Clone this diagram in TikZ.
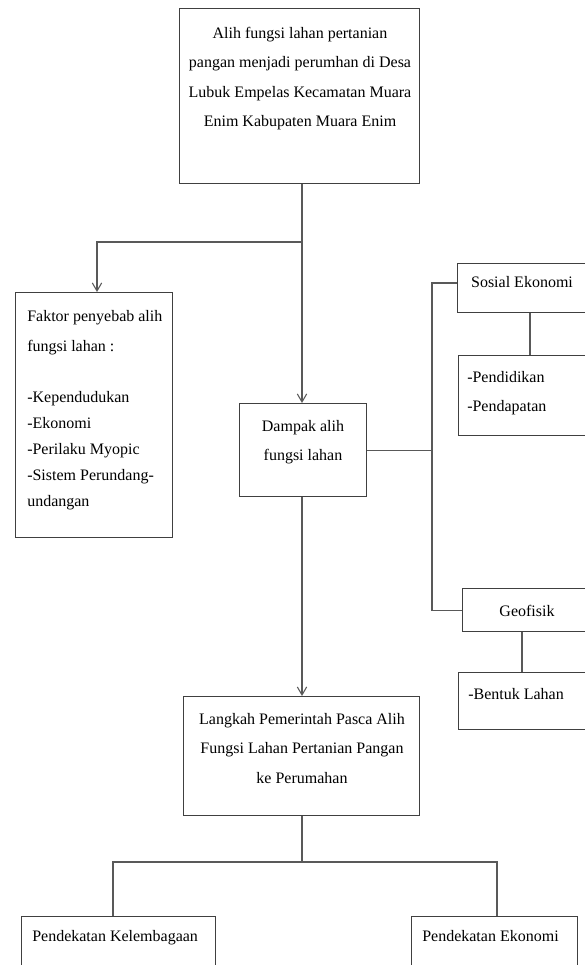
\documentclass[tikz,border=0pt]{standalone}
\usepackage{fontspec}
\setmainfont{Liberation Serif}
\usetikzlibrary{arrows.meta}
\begin{document}
\begin{tikzpicture}[x=0.75pt,y=-0.75pt,
  box/.style={draw=black!75, line width=0.8pt, inner sep=0pt, anchor=north west},
  conn/.style={draw=black!65, line width=0.8pt},
  arr/.style={conn, -{Straight Barb[length=6pt,width=7pt,line width=0.8pt]}},
  txt/.style={font=\fontsize{12}{22}\selectfont, inner sep=0pt, text=black},
]
\useasboundingbox (0,0) rectangle (585,965);
\clip (0,0) rectangle (585,965);

% boxes
\node[box, minimum width=180pt, minimum height=131.25pt] (top) at (179,8) {};
\node[box, minimum width=117.75pt, minimum height=183.75pt] (left) at (15,292) {};
\node[box, minimum width=95.25pt, minimum height=69.75pt] (dampak) at (239,403) {};
\node[box, minimum width=105pt, minimum height=36.75pt] (sosial) at (457,263) {};
\node[box, minimum width=105pt, minimum height=60pt] (pend) at (458,355) {};
\node[box, minimum width=105pt, minimum height=32.25pt] (geo) at (462,588) {};
\node[box, minimum width=105pt, minimum height=42.75pt] (bentuk) at (458,672) {};
\node[box, minimum width=177pt, minimum height=89.25pt] (langkah) at (183,696) {};
\node[box, minimum width=145.5pt, minimum height=60pt] (pk) at (21,916) {};
\node[box, minimum width=124.5pt, minimum height=60pt] (pe) at (411,916) {};

% texts
\node[txt, anchor=north, align=center] (toptxt) at (300,27)
  {Alih fungsi lahan pertanian\\ pangan menjadi perumhan di Desa\\ Lubuk Empelas Kecamatan Muara\\ Enim Kabupaten Muara Enim};
\node[txt, anchor=north west, align=left, font=\fontsize{12}{19.5}\selectfont] (lefttxt) at (27,310)
  {Faktor penyebab alih\\[3pt] fungsi lahan :\\[19pt] -Kependudukan\\ -Ekonomi\\ -Perilaku Myopic\\ -Sistem Perundang-\\ undangan};
\node[txt, anchor=north, align=center] (dampaktxt) at (303,420) {Dampak alih\\ fungsi lahan};
\node[txt, anchor=base] (sosialtxt) at (522,287) {Sosial Ekonomi};
\node[txt, anchor=north west, align=left] (pendtxt) at (467,371) {-Pendidikan\\ -Pendapatan};
\node[txt, anchor=base] (geotxt) at (527,616) {Geofisik};
\node[txt, anchor=base west] (bentuktxt) at (468,699) {-Bentuk Lahan};
\node[txt, anchor=north, align=center] (langkahtxt) at (302,713)
  {Langkah Pemerintah Pasca Alih\\ Fungsi Lahan Pertanian Pangan\\ ke Perumahan};
\node[txt, anchor=base west] (pktxt) at (32,941) {Pendekatan Kelembagaan};
\node[txt, anchor=base west] (petxt) at (422,941) {Pendekatan Ekonomi};

% connectors
\coordinate (j1) at (302,242);
\coordinate (j2) at (97,242);
\coordinate (bus) at (432,451);
\coordinate (sy) at (0,283);
\coordinate (c1) at (530,0);
\coordinate (c2) at (522,0);
\coordinate (j3) at (302,862);
\coordinate (bl) at (113,862);
\coordinate (br) at (497,862);

\draw[arr] (top.south -| j1) -- (dampak.north -| j1);
\draw[arr] (j1) -- (j2) -- (j2 |- left.north);
\draw[conn] (dampak.east) -- (dampak.east -| bus);
\draw[conn] (sosial.west |- sy) -- (bus |- sy) -- (geo.west -| bus) -- (geo.west);
\draw[conn] (sosial.south -| c1) -- (pend.north -| c1);
\draw[conn] (geo.south -| c2) -- (bentuk.north -| c2);
\draw[arr] (dampak.south -| j1) -- (langkah.north -| j1);
\draw[conn] (langkah.south -| j3) -- (j3);
\draw[conn] (bl |- pk.north) -- (bl) -- (br) -- (br |- pe.north);
\end{tikzpicture}
\end{document}
